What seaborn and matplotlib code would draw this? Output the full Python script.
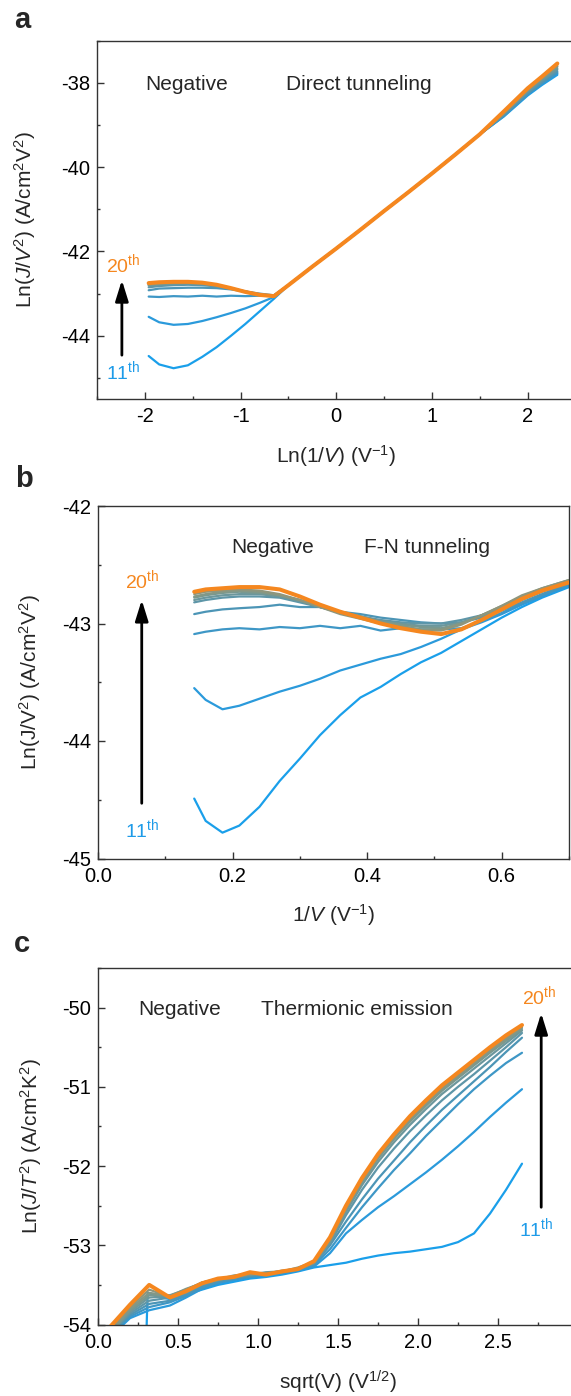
import numpy as np
import pandas as pd
import matplotlib
matplotlib.use("Agg")
import matplotlib.pyplot as plt
from matplotlib.ticker import MultipleLocator, FixedLocator, FormatStrFormatter
import seaborn as sns

sns.set_style("ticks")
plt.rcParams['font.family'] = ['Liberation Sans', 'DejaVu Sans']
plt.rcParams['mathtext.fontset'] = 'custom'
plt.rcParams['mathtext.rm'] = 'Liberation Sans'
plt.rcParams['mathtext.it'] = 'Liberation Sans:italic'
plt.rcParams['mathtext.bf'] = 'Liberation Sans:bold'
plt.rcParams['axes.unicode_minus'] = False

# ---------------- data ----------------
CYCLES = [11, 12, 13, 14, 15, 16, 17, 18, 19, 20]
COLORS = ['#1A9FEA', '#2B9ADB', '#3E97C6', '#4C95B6', '#5E96A8',
          '#6C979C', '#789890', '#849886', '#8F967C', '#F5871F']

# Panel a: Ln(J/V^2) vs Ln(1/V)
A_X_LEFT = [-1.96, -1.85, -1.70, -1.55, -1.40, -1.25, -1.10, -0.95, -0.80, -0.65]
A_X_MID = [-0.50, -0.25, 0.00, 0.25, 0.50, 0.75, 1.00, 1.25, 1.50]
A_Y_MID = [-42.80, -42.36, -41.93, -41.49, -41.04, -40.60, -40.15, -39.69, -39.22]
A_X_END = [1.75, 2.00, 2.15, 2.31]
A_Y_LEFT = {
    11: [-44.48, -44.68, -44.77, -44.70, -44.50, -44.27, -44.00, -43.72, -43.42, -43.12],
    12: [-43.55, -43.68, -43.74, -43.72, -43.65, -43.56, -43.46, -43.35, -43.22, -43.08],
    13: [-43.07, -43.08, -43.06, -43.07, -43.05, -43.07, -43.05, -43.06, -43.05, -43.04],
    14: [-42.92, -42.88, -42.87, -42.86, -42.86, -42.87, -42.90, -42.95, -43.00, -43.04],
    15: [-42.85, -42.82, -42.80, -42.79, -42.80, -42.83, -42.88, -42.95, -43.02, -43.05],
    16: [-42.81, -42.79, -42.77, -42.76, -42.77, -42.81, -42.87, -42.95, -43.02, -43.05],
    17: [-42.79, -42.77, -42.75, -42.75, -42.76, -42.80, -42.87, -42.95, -43.02, -43.06],
    18: [-42.78, -42.76, -42.74, -42.74, -42.75, -42.80, -42.87, -42.96, -43.03, -43.06],
    19: [-42.77, -42.75, -42.73, -42.73, -42.75, -42.79, -42.87, -42.96, -43.03, -43.06],
    20: [-42.75, -42.73, -42.72, -42.72, -42.74, -42.79, -42.87, -42.96, -43.03, -43.06],
}
A_Y_END = {
    11: [-38.80, -38.30, -38.05, -37.81],
    12: [-38.79, -38.28, -38.03, -37.78],
    13: [-38.78, -38.27, -38.01, -37.76],
    14: [-38.77, -38.25, -37.99, -37.73],
    15: [-38.75, -38.22, -37.96, -37.69],
    16: [-38.74, -38.20, -37.93, -37.66],
    17: [-38.72, -38.18, -37.91, -37.62],
    18: [-38.71, -38.17, -37.89, -37.60],
    19: [-38.70, -38.15, -37.87, -37.57],
    20: [-38.68, -38.13, -37.85, -37.54],
}

# Panel b: Ln(J/V^2) vs 1/V
B_X = [0.143, 0.16, 0.185, 0.21, 0.24, 0.27, 0.30, 0.33, 0.36, 0.39,
       0.42, 0.45, 0.48, 0.51, 0.54, 0.57, 0.60, 0.63, 0.66, 0.70]
B_Y = {
    11: [-44.49, -44.68, -44.78, -44.72, -44.56, -44.34, -44.15, -43.95, -43.78, -43.63,
         -43.54, -43.43, -43.33, -43.25, -43.15, -43.05, -42.95, -42.86, -42.78, -42.69],
    12: [-43.55, -43.65, -43.73, -43.70, -43.64, -43.58, -43.53, -43.47, -43.40, -43.35,
         -43.30, -43.26, -43.20, -43.13, -43.05, -42.99, -42.92, -42.84, -42.77, -42.68],
    13: [-43.09, -43.07, -43.05, -43.04, -43.05, -43.03, -43.04, -43.02, -43.04, -43.02,
         -43.06, -43.04, -43.05, -43.05, -43.04, -42.98, -42.91, -42.83, -42.76, -42.67],
    14: [-42.92, -42.90, -42.88, -42.87, -42.86, -42.84, -42.86, -42.86, -42.90, -42.92,
         -42.95, -42.97, -42.99, -43.00, -42.99, -42.95, -42.89, -42.82, -42.75, -42.66],
    15: [-42.82, -42.80, -42.78, -42.77, -42.77, -42.78, -42.82, -42.86, -42.90, -42.94,
         -42.97, -42.99, -43.00, -43.00, -42.97, -42.93, -42.88, -42.80, -42.73, -42.65],
    16: [-42.80, -42.78, -42.76, -42.75, -42.75, -42.77, -42.81, -42.86, -42.90, -42.94,
         -42.98, -43.00, -43.02, -43.02, -42.99, -42.94, -42.87, -42.79, -42.72, -42.64],
    17: [-42.78, -42.76, -42.74, -42.73, -42.74, -42.76, -42.80, -42.85, -42.90, -42.94,
         -42.98, -43.01, -43.03, -43.04, -43.00, -42.93, -42.86, -42.78, -42.71, -42.64],
    18: [-42.77, -42.75, -42.73, -42.72, -42.73, -42.76, -42.80, -42.86, -42.91, -42.95,
         -42.99, -43.02, -43.05, -43.05, -43.00, -42.93, -42.85, -42.77, -42.70, -42.63],
    19: [-42.75, -42.73, -42.72, -42.71, -42.72, -42.75, -42.80, -42.86, -42.92, -42.96,
         -43.00, -43.03, -43.06, -43.06, -43.01, -42.93, -42.85, -42.76, -42.70, -42.63],
    20: [-42.73, -42.71, -42.70, -42.69, -42.69, -42.71, -42.77, -42.84, -42.90, -42.95,
         -43.00, -43.04, -43.07, -43.09, -43.05, -42.97, -42.88, -42.79, -42.72, -42.65],
}

# Panel c: Ln(J/T^2) vs sqrt(V)
C_X = [0.08, 0.20, 0.32, 0.45, 0.55, 0.65, 0.75, 0.85, 0.95, 1.05, 1.15, 1.25, 1.35,
       1.45, 1.55, 1.65, 1.75, 1.85, 1.95, 2.05, 2.15, 2.25, 2.35, 2.45, 2.55, 2.65]
C_X_11 = [0.30, 0.31, 0.38, 0.45, 0.55, 0.65, 0.75, 0.85, 0.95, 1.05, 1.15, 1.25, 1.35,
          1.45, 1.55, 1.65, 1.75, 1.85, 1.95, 2.05, 2.15, 2.25, 2.35, 2.45, 2.55, 2.65]
C_Y = {
    11: [-54.30, -53.60, -53.65, -53.68, -53.62, -53.56, -53.50, -53.46, -53.42, -53.40,
         -53.37, -53.33, -53.28, -53.25, -53.22, -53.17, -53.13, -53.10, -53.08, -53.05,
         -53.02, -52.96, -52.85, -52.60, -52.30, -51.97],
    12: [-54.15, -53.92, -53.82, -53.76, -53.66, -53.55, -53.48, -53.44, -53.40, -53.38,
         -53.36, -53.32, -53.27, -53.10, -52.85, -52.68, -52.52, -52.38, -52.23, -52.08,
         -51.92, -51.75, -51.57, -51.38, -51.20, -51.03],
    13: [-54.12, -53.90, -53.78, -53.72, -53.64, -53.54, -53.47, -53.43, -53.40, -53.38,
         -53.35, -53.31, -53.25, -53.05, -52.78, -52.52, -52.28, -52.05, -51.84, -51.62,
         -51.42, -51.22, -51.03, -50.86, -50.70, -50.57],
    14: [-54.12, -53.88, -53.74, -53.70, -53.62, -53.52, -53.46, -53.42, -53.39, -53.37,
         -53.34, -53.31, -53.24, -53.00, -52.70, -52.42, -52.16, -51.93, -51.70, -51.49,
         -51.29, -51.11, -50.93, -50.75, -50.56, -50.38],
    15: [-54.10, -53.86, -53.70, -53.66, -53.60, -53.50, -53.44, -53.40, -53.38, -53.36,
         -53.33, -53.30, -53.23, -52.98, -52.62, -52.30, -52.02, -51.78, -51.56, -51.36,
         -51.17, -51.00, -50.84, -50.67, -50.50, -50.32],
    16: [-54.10, -53.84, -53.66, -53.64, -53.57, -53.49, -53.43, -53.41, -53.37, -53.34,
         -53.33, -53.29, -53.22, -52.96, -52.58, -52.24, -51.95, -51.70, -51.48, -51.28,
         -51.09, -50.93, -50.77, -50.61, -50.45, -50.29],
    17: [-54.10, -53.82, -53.63, -53.63, -53.56, -53.47, -53.42, -53.40, -53.36, -53.36,
         -53.32, -53.30, -53.22, -52.94, -52.55, -52.21, -51.91, -51.66, -51.44, -51.24,
         -51.05, -50.89, -50.73, -50.57, -50.42, -50.27],
    18: [-54.08, -53.80, -53.60, -53.64, -53.55, -53.48, -53.44, -53.39, -53.37, -53.35,
         -53.33, -53.28, -53.21, -52.93, -52.53, -52.19, -51.89, -51.64, -51.42, -51.22,
         -51.03, -50.87, -50.71, -50.55, -50.40, -50.25],
    19: [-54.05, -53.78, -53.56, -53.65, -53.57, -53.47, -53.43, -53.38, -53.36, -53.35,
         -53.34, -53.30, -53.21, -52.92, -52.52, -52.17, -51.87, -51.62, -51.40, -51.20,
         -51.01, -50.85, -50.69, -50.53, -50.38, -50.24],
    20: [-54.02, -53.75, -53.50, -53.66, -53.58, -53.48, -53.42, -53.40, -53.34, -53.37,
         -53.33, -53.30, -53.20, -52.90, -52.50, -52.15, -51.85, -51.60, -51.37, -51.17,
         -50.98, -50.82, -50.66, -50.50, -50.35, -50.22],
}

# tick values
A_XTICKS = [-2, -1, 0, 1, 2]
B_XTICKS = [0.0, 0.2, 0.4, 0.6]
C_XTICKS = [0.0, 0.5, 1.0, 1.5, 2.0, 2.5]

# ---------------- figure ----------------
W, H = 571, 1396
fig = plt.figure(figsize=(W / 100, H / 100), dpi=100)

def px_axes(left, top, right, bottom):
    return fig.add_axes([left / W, 1 - bottom / H, (right - left) / W, (bottom - top) / H])

ax_a = px_axes(97, 40.7, 575.5, 399)
ax_b = px_axes(98, 506, 569, 858.5)
ax_c = px_axes(98, 968, 578, 1324.5)

def draw_curves(ax, xs_by_cycle, ys_by_cycle):
    for cyc, col in zip(CYCLES, COLORS):
        lw = 2.9 if cyc == 20 else 1.6
        df = pd.DataFrame({'x': xs_by_cycle[cyc], 'y': ys_by_cycle[cyc]})
        sns.lineplot(data=df, x='x', y='y', ax=ax, color=col, linewidth=lw,
                     legend=False, sort=False, estimator=None,
                     zorder=3 if cyc == 20 else 2)

a_x = {c: A_X_LEFT + A_X_MID + A_X_END for c in CYCLES}
a_y = {c: A_Y_LEFT[c] + A_Y_MID + A_Y_END[c] for c in CYCLES}
draw_curves(ax_a, a_x, a_y)

b_x = {c: B_X for c in CYCLES}
draw_curves(ax_b, b_x, B_Y)

c_x = {c: (C_X_11 if c == 11 else C_X) for c in CYCLES}
draw_curves(ax_c, c_x, C_Y)

ORANGE = '#F5871F'
BLUE = '#1E9BE8'
TXT = 15

def style(ax, xlim, ylim, xticks, xmin, ymaj, ymin, xfmt, yfmt, xlabel, ylabel,
          ylab_right_px, ax_left_px, ax_w_px, ax_h_px):
    ax.set_xlim(*xlim)
    ax.set_ylim(*ylim)
    ax.xaxis.set_major_locator(FixedLocator(xticks))
    ax.xaxis.set_minor_locator(MultipleLocator(xmin))
    ax.yaxis.set_major_locator(MultipleLocator(ymaj))
    ax.yaxis.set_minor_locator(MultipleLocator(ymin))
    ax.xaxis.set_major_formatter(FormatStrFormatter(xfmt))
    ax.yaxis.set_major_formatter(FormatStrFormatter(yfmt))
    ax.tick_params(which='both', direction='in', top=False, right=False,
                   color='#333333', width=1.0, labelsize=14.5, labelcolor='black')
    ax.tick_params(which='major', length=5)
    ax.tick_params(which='minor', length=2.5)
    ax.tick_params(axis='x', which='major', pad=6)
    ax.tick_params(axis='y', which='major', pad=5)
    for s in ax.spines.values():
        s.set_visible(True)
        s.set_linewidth(1.0)
        s.set_color('#333333')
    ax.set_xlabel(xlabel, fontsize=15)
    ax.set_ylabel(ylabel, fontsize=15)
    ax.yaxis.set_label_coords(-(ax_left_px - ylab_right_px) / ax_w_px, 0.5)
    ax.xaxis.set_label_coords(0.5, -44 / ax_h_px)

style(ax_a, (-2.5, 2.5), (-45.5, -37), A_XTICKS, 0.5, 2, 1, '%d', '%d',
      r'Ln(1/$V$) (V$^{-1}$)', r'Ln($J$/$V^2$) (A/cm$^2$V$^2$)', 38, 97, 478.5, 358.3)
style(ax_b, (0, 0.7), (-45, -42), B_XTICKS, 0.1, 1, 0.5, '%.1f', '%d',
      r'1/$V$ (V$^{-1}$)', r'Ln(J/V$^2$) (A/cm$^2$V$^2$)', 43, 98, 471, 352.5)
style(ax_c, (0, 3.0), (-54, -49.5), C_XTICKS, 0.25, 1, 0.5, '%.1f', '%d',
      r'sqrt(V) (V$^{1/2}$)', r'Ln($J$/$T^2$) (A/cm$^2$K$^2$)', 44, 98, 480, 356.5)

# annotations
ax_a.text(-1.56, -38.05, 'Negative', fontsize=TXT, ha='center', va='center')
ax_a.text(0.24, -38.05, 'Direct tunneling', fontsize=TXT, ha='center', va='center')
ax_b.text(0.259, -42.35, 'Negative', fontsize=TXT, ha='center', va='center')
ax_b.text(0.489, -42.35, 'F-N tunneling', fontsize=TXT, ha='center', va='center')
ax_c.text(0.51, -50.02, 'Negative', fontsize=TXT, ha='center', va='center')
ax_c.text(1.62, -50.02, 'Thermionic emission', fontsize=TXT, ha='center', va='center')

arrow_kw = dict(arrowstyle='-|>,head_width=0.28,head_length=0.9', color='black',
                lw=2.0, shrinkA=0, shrinkB=0, mutation_scale=14)

def arrow(ax, x, y0, y1):
    ax.annotate('', xy=(x, y1), xytext=(x, y0), arrowprops=arrow_kw)

arrow(ax_a, -2.24, -44.46, -42.68)
ax_a.text(-2.23, -42.3, r'20$^{\mathrm{th}}$', color=ORANGE, fontsize=14, ha='center', va='center')
ax_a.text(-2.23, -44.85, r'11$^{\mathrm{th}}$', color=BLUE, fontsize=14, ha='center', va='center')

arrow(ax_b, 0.065, -44.53, -42.80)
ax_b.text(0.066, -42.63, r'20$^{\mathrm{th}}$', color=ORANGE, fontsize=14, ha='center', va='center')
ax_b.text(0.066, -44.75, r'11$^{\mathrm{th}}$', color=BLUE, fontsize=14, ha='center', va='center')

arrow(ax_c, 2.77, -52.52, -50.07)
ax_c.text(2.76, -49.85, r'20$^{\mathrm{th}}$', color=ORANGE, fontsize=14, ha='center', va='center')
ax_c.text(2.74, -52.79, r'11$^{\mathrm{th}}$', color=BLUE, fontsize=14, ha='center', va='center')

# panel letters
for lab, xp, yp in [('a', 22.6, 28), ('b', 23.7, 486.7), ('c', 22.0, 951.7)]:
    fig.text(xp / W, 1 - yp / H, lab, fontsize=21, fontweight='bold',
             ha='center', va='baseline')

fig.savefig('out.png', dpi=100)
